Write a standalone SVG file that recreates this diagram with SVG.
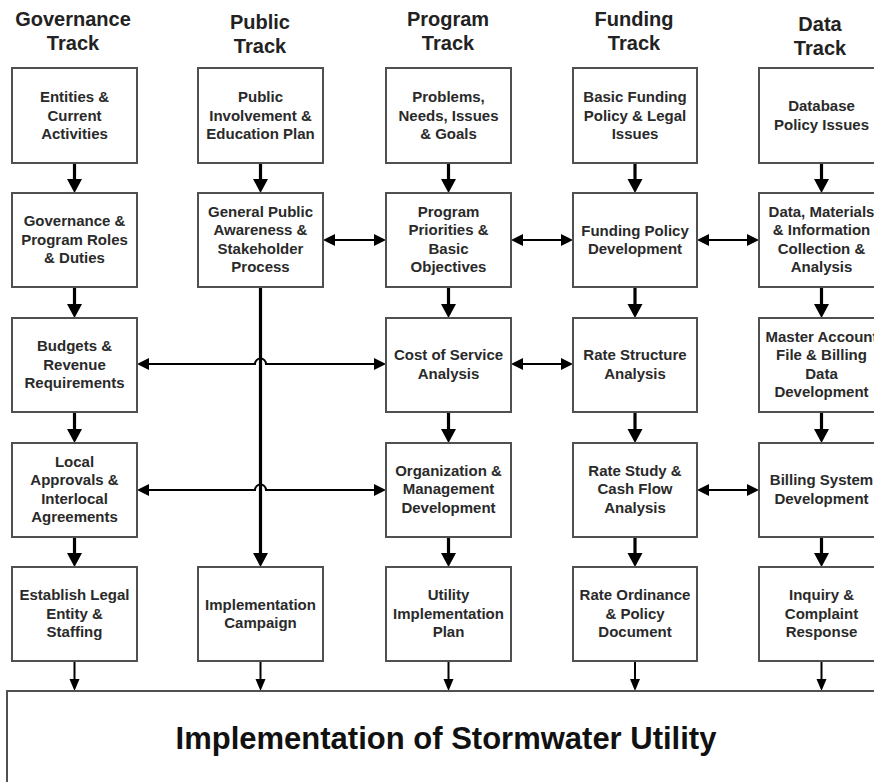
<svg xmlns="http://www.w3.org/2000/svg" width="874" height="782" viewBox="0 0 874 782">
<defs>
<style>
.hd{font-family:"Liberation Sans",Arial,sans-serif;font-weight:bold;font-size:20px;fill:#222;text-anchor:middle}
.t{font-family:"Liberation Sans",Arial,sans-serif;font-weight:bold;font-size:15px;fill:#2a2a2a;text-anchor:middle}
.box{fill:#fff;stroke:#505050;stroke-width:2}
.thick{stroke:#000;stroke-width:3.2;fill:none}
.thin{stroke:#000;stroke-width:2;fill:none}
.big{text-anchor:middle;font-family:"Liberation Sans",Arial,sans-serif;font-weight:bold;font-size:31px;fill:#111}
</style>
<marker id="hb" markerUnits="userSpaceOnUse" markerWidth="14" markerHeight="16" refX="0" refY="8" orient="auto"><path d="M0,0.5 L14,8 L0,15.5 z" fill="#000"/></marker>
<marker id="hs" markerUnits="userSpaceOnUse" markerWidth="12" markerHeight="11" refX="0" refY="5.5" orient="auto"><path d="M0,0.5 L12,5.5 L0,10.5 z" fill="#000"/></marker>
<marker id="hd" markerUnits="userSpaceOnUse" markerWidth="12" markerHeight="13" refX="0" refY="6.5" orient="auto-start-reverse"><path d="M0,0.5 L12,6.5 L0,12.5 z" fill="#000"/></marker>
</defs>
<rect width="874" height="782" fill="#fff"/>

<g id="headers">
<text class="hd" x="73" y="26">Governance</text><text class="hd" x="73" y="50">Track</text>
<text class="hd" x="260" y="29">Public</text><text class="hd" x="260" y="53">Track</text>
<text class="hd" x="448" y="26">Program</text><text class="hd" x="448" y="50">Track</text>
<text class="hd" x="634" y="26">Funding</text><text class="hd" x="634" y="50">Track</text>
<text class="hd" x="820" y="31">Data</text><text class="hd" x="820" y="55">Track</text>
</g>

<g id="connectors">
<path class="thick" marker-end="url(#hb)" d="M74.5,163 V179"/>
<path class="thick" marker-end="url(#hb)" d="M74.5,287 V304"/>
<path class="thick" marker-end="url(#hb)" d="M74.5,412 V429"/>
<path class="thick" marker-end="url(#hb)" d="M74.5,537 V553"/>
<path class="thick" marker-end="url(#hb)" d="M260.5,163 V179"/>
<path class="thick" marker-end="url(#hb)" d="M260.5,287 V553"/>
<path class="thick" marker-end="url(#hb)" d="M448.5,163 V179"/>
<path class="thick" marker-end="url(#hb)" d="M448.5,287 V304"/>
<path class="thick" marker-end="url(#hb)" d="M448.5,412 V429"/>
<path class="thick" marker-end="url(#hb)" d="M448.5,537 V553"/>
<path class="thick" marker-end="url(#hb)" d="M635,163 V179"/>
<path class="thick" marker-end="url(#hb)" d="M635,287 V304"/>
<path class="thick" marker-end="url(#hb)" d="M635,412 V429"/>
<path class="thick" marker-end="url(#hb)" d="M635,537 V553"/>
<path class="thick" marker-end="url(#hb)" d="M821.5,163 V179"/>
<path class="thick" marker-end="url(#hb)" d="M821.5,287 V304"/>
<path class="thick" marker-end="url(#hb)" d="M821.5,412 V429"/>
<path class="thick" marker-end="url(#hb)" d="M821.5,537 V553"/>
<path class="thin" marker-end="url(#hs)" d="M74.5,661 V679"/>
<path class="thin" marker-end="url(#hs)" d="M260.5,661 V679"/>
<path class="thin" marker-end="url(#hs)" d="M448.5,661 V679"/>
<path class="thin" marker-end="url(#hs)" d="M635,661 V679"/>
<path class="thin" marker-end="url(#hs)" d="M821.5,661 V679"/>
<path class="thin" marker-start="url(#hd)" marker-end="url(#hd)" d="M335,240 H374"/>
<path class="thin" marker-start="url(#hd)" marker-end="url(#hd)" d="M523,240 H561"/>
<path class="thin" marker-start="url(#hd)" marker-end="url(#hd)" d="M709,240 H747"/>
<path class="thin" marker-start="url(#hd)" marker-end="url(#hd)" d="M149,364 H255 A5.5,5.5 0 0 1 266,364 H374"/>
<path class="thin" marker-start="url(#hd)" marker-end="url(#hd)" d="M523,364 H561"/>
<path class="thin" marker-start="url(#hd)" marker-end="url(#hd)" d="M149,490 H255 A5.5,5.5 0 0 1 266,490 H374"/>
<path class="thin" marker-start="url(#hd)" marker-end="url(#hd)" d="M709,490 H747"/>
</g>

<g id="gov1"><rect class="box" x="12" y="68" width="125" height="95"/><text class="t"><tspan x="74.5" y="102">Entities &amp;</tspan><tspan x="74.5" y="120.5">Current</tspan><tspan x="74.5" y="139">Activities</tspan></text></g>
<g id="pub1"><rect class="box" x="198" y="68" width="125" height="95"/><text class="t"><tspan x="260.5" y="102">Public</tspan><tspan x="260.5" y="120.5">Involvement &amp;</tspan><tspan x="260.5" y="139">Education Plan</tspan></text></g>
<g id="prog1"><rect class="box" x="386" y="68" width="125" height="95"/><text class="t"><tspan x="448.5" y="102">Problems,</tspan><tspan x="448.5" y="120.5">Needs, Issues</tspan><tspan x="448.5" y="139">&amp; Goals</tspan></text></g>
<g id="fund1"><rect class="box" x="573" y="68" width="124" height="95"/><text class="t"><tspan x="635" y="102">Basic Funding</tspan><tspan x="635" y="120.5">Policy &amp; Legal</tspan><tspan x="635" y="139">Issues</tspan></text></g>
<g id="data1"><rect class="box" x="759" y="68" width="125" height="95"/><text class="t"><tspan x="821.5" y="111">Database</tspan><tspan x="821.5" y="129.5">Policy Issues</tspan></text></g>

<g id="gov2"><rect class="box" x="12" y="193" width="125" height="94"/><text class="t"><tspan x="74.5" y="226">Governance &amp;</tspan><tspan x="74.5" y="244.5">Program Roles</tspan><tspan x="74.5" y="263">&amp; Duties</tspan></text></g>
<g id="pub2"><rect class="box" x="198" y="193" width="125" height="94"/><text class="t"><tspan x="260.5" y="216.5">General Public</tspan><tspan x="260.5" y="235">Awareness &amp;</tspan><tspan x="260.5" y="253.5">Stakeholder</tspan><tspan x="260.5" y="272">Process</tspan></text></g>
<g id="prog2"><rect class="box" x="386" y="193" width="125" height="94"/><text class="t"><tspan x="448.5" y="216.5">Program</tspan><tspan x="448.5" y="235">Priorities &amp;</tspan><tspan x="448.5" y="253.5">Basic</tspan><tspan x="448.5" y="272">Objectives</tspan></text></g>
<g id="fund2"><rect class="box" x="573" y="193" width="124" height="94"/><text class="t"><tspan x="635" y="235.5">Funding Policy</tspan><tspan x="635" y="254">Development</tspan></text></g>
<g id="data2"><rect class="box" x="759" y="193" width="125" height="94"/><text class="t"><tspan x="821.5" y="216.5">Data, Materials</tspan><tspan x="821.5" y="235">&amp; Information</tspan><tspan x="821.5" y="253.5">Collection &amp;</tspan><tspan x="821.5" y="272">Analysis</tspan></text></g>

<g id="gov3"><rect class="box" x="12" y="318" width="125" height="94"/><text class="t"><tspan x="74.5" y="351">Budgets &amp;</tspan><tspan x="74.5" y="369.5">Revenue</tspan><tspan x="74.5" y="388">Requirements</tspan></text></g>
<g id="prog3"><rect class="box" x="386" y="318" width="125" height="94"/><text class="t"><tspan x="448.5" y="360">Cost of Service</tspan><tspan x="448.5" y="378.5">Analysis</tspan></text></g>
<g id="fund3"><rect class="box" x="573" y="318" width="124" height="94"/><text class="t"><tspan x="635" y="360">Rate Structure</tspan><tspan x="635" y="378.5">Analysis</tspan></text></g>
<g id="data3"><rect class="box" x="759" y="318" width="125" height="94"/><text class="t"><tspan x="821.5" y="341.5">Master Account</tspan><tspan x="821.5" y="360">File &amp; Billing</tspan><tspan x="821.5" y="378.5">Data</tspan><tspan x="821.5" y="397">Development</tspan></text></g>

<g id="gov4"><rect class="box" x="12" y="443" width="125" height="94"/><text class="t"><tspan x="74.5" y="466.5">Local</tspan><tspan x="74.5" y="485">Approvals &amp;</tspan><tspan x="74.5" y="503.5">Interlocal</tspan><tspan x="74.5" y="522">Agreements</tspan></text></g>
<g id="prog4"><rect class="box" x="386" y="443" width="125" height="94"/><text class="t"><tspan x="448.5" y="475.5">Organization &amp;</tspan><tspan x="448.5" y="494">Management</tspan><tspan x="448.5" y="512.5">Development</tspan></text></g>
<g id="fund4"><rect class="box" x="573" y="443" width="124" height="94"/><text class="t"><tspan x="635" y="475.5">Rate Study &amp;</tspan><tspan x="635" y="494">Cash Flow</tspan><tspan x="635" y="512.5">Analysis</tspan></text></g>
<g id="data4"><rect class="box" x="759" y="443" width="125" height="94"/><text class="t"><tspan x="821.5" y="485">Billing System</tspan><tspan x="821.5" y="503.5">Development</tspan></text></g>

<g id="gov5"><rect class="box" x="12" y="567" width="125" height="94"/><text class="t"><tspan x="74.5" y="600">Establish Legal</tspan><tspan x="74.5" y="618.5">Entity &amp;</tspan><tspan x="74.5" y="637">Staffing</tspan></text></g>
<g id="pub5"><rect class="box" x="198" y="567" width="125" height="94"/><text class="t"><tspan x="260.5" y="609.5">Implementation</tspan><tspan x="260.5" y="628">Campaign</tspan></text></g>
<g id="prog5"><rect class="box" x="386" y="567" width="125" height="94"/><text class="t"><tspan x="448.5" y="600">Utility</tspan><tspan x="448.5" y="618.5">Implementation</tspan><tspan x="448.5" y="637">Plan</tspan></text></g>
<g id="fund5"><rect class="box" x="573" y="567" width="124" height="94"/><text class="t"><tspan x="635" y="600">Rate Ordinance</tspan><tspan x="635" y="618.5">&amp; Policy</tspan><tspan x="635" y="637">Document</tspan></text></g>
<g id="data5"><rect class="box" x="759" y="567" width="125" height="94"/><text class="t"><tspan x="821.5" y="600">Inquiry &amp;</tspan><tspan x="821.5" y="618.5">Complaint</tspan><tspan x="821.5" y="637">Response</tspan></text></g>

<g id="bottom"><rect class="box" x="7" y="691" width="890" height="120"/><text class="big" x="446" y="749">Implementation of Stormwater Utility</text></g>
</svg>
